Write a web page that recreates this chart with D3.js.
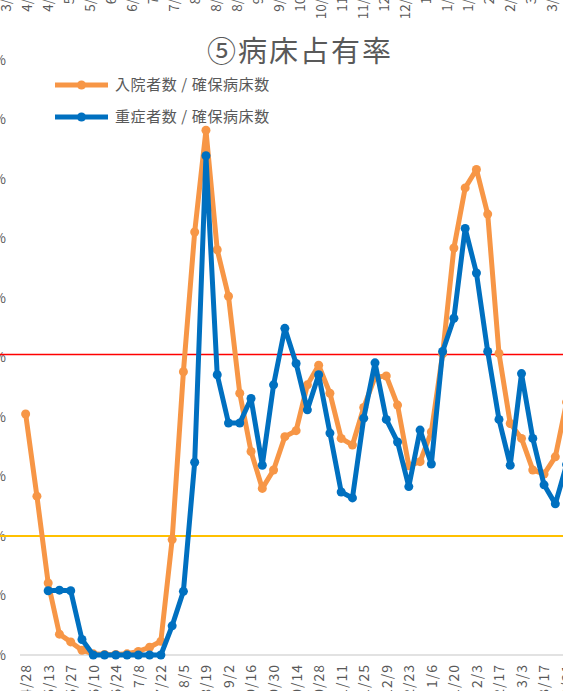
<!DOCTYPE html>
<meta charset="utf-8">
<style>
  body { margin: 0; background: #fff; }
  svg { display: block; }
  text { font-family: "Noto Sans CJK JP", "Noto Sans", sans-serif; fill: #595959; }
</style>
<script src="https://d3js.org/d3.v7.min.js"></script>

<div id="chart"></div>

<script>

// weekly dates (x categories)
var dates = ["4/28","5/6","5/13","5/20","5/27","6/3","6/10","6/17","6/24","7/1","7/8","7/15","7/22","7/29",
  "8/5","8/12","8/19","8/26","9/2","9/9","9/16","9/23","9/30","10/7","10/14","10/21","10/28","11/4",
  "11/11","11/18","11/25","12/2","12/9","12/16","12/23","12/30","1/6","1/13","1/20","1/27","2/3","2/10",
  "2/17","2/24","3/3","3/10","3/17","3/24","3/31"]

// 入院者数 / 確保病床数 (%)
var hospitalized = [40.5,26.7,12.1,3.5,2.2,0.8,0.2,0.1,0.1,0.2,0.6,1.3,2.3,19.4,
  47.6,71.1,88.2,68.1,60.3,44.0,34.2,28.0,31.1,36.7,37.7,45.4,48.7,44.0,
  36.4,35.3,41.6,46.7,46.9,42.0,31.8,32.5,37.5,50.6,68.4,78.5,81.6,74.1,
  50.7,38.9,36.4,31.1,30.4,33.3,42.5]

// 重症者数 / 確保病床数 (%)
var severe = [null,null,10.8,10.9,10.8,2.6,0,0,0,0,0,0,0,4.9,
  10.7,32.4,83.9,47.1,39.0,39.0,43.1,31.9,45.4,54.9,49.0,41.2,47.1,37.3,
  27.4,26.4,39.8,49.1,39.6,35.8,28.3,37.8,32.1,51.0,56.6,71.7,64.2,51.0,
  39.6,31.9,47.3,36.4,28.6,25.4,32.0]

var yTicks = [0,10,20,30,40,50,60,70,80,90,100]

// x labels of the chart above (only their ends show)
var topDates = ["3/31","4/14","4/28","5/6","5/19","6/2","6/16","7/1","7/14","8/4","8/18","8/25",
  "9/8","9/22","10/6","10/20","11/3","11/17","12/1","12/15","1/5","1/12","1/26","2/9","2/23","3/9","3/23"]

var redLevel = 50.5
var yellowLevel = 20

var width = 563, height = 691
var orange = "#F79646", blue = "#0070C0"

var svg = d3.select("#chart").append("svg")
  .attr("width", width)
  .attr("height", height)

var x = d3.scalePoint()
  .domain(dates)
  .range([20, 20 + dates.length * 11.27])
  .padding(0.5)

var y = d3.scaleLinear()
  .domain([0, 100])
  .range([655, 60])

// top labels, cut off
var xTop = d3.scalePoint().domain(topDates).range([6, 6 + 26 * 21])
svg.append("g").selectAll("text")
  .data(topDates)
  .enter().append("text")
    .attr("transform", function(d){ return "translate(" + xTop(d) + ",-16) rotate(-90)" })
    .attr("text-anchor", "end")
    .attr("dy", "0.35em")
    .style("font-size", "13.5px")
    .text(function(d){ return d })

// title
svg.append("text")
  .attr("x", 300)
  .attr("y", 62)
  .attr("text-anchor", "middle")
  .style("font-size", "29px")
  .style("letter-spacing", "2px")
  .text("⑤病床占有率")

// baseline
svg.append("line")
  .attr("x1", 20).attr("x2", width)
  .attr("y1", y(0)).attr("y2", y(0))
  .attr("stroke", "#D9D9D9")
  .attr("stroke-width", 1.5)

// y labels
svg.append("g").selectAll("text")
  .data(yTicks)
  .enter().append("text")
    .attr("x", 6)
    .attr("y", function(d){ return y(d) })
    .attr("dy", "0.35em")
    .attr("text-anchor", "end")
    .style("font-size", "13.5px")
    .text(function(d){ return d + "%" })

// x axis
var xAxis = svg.append("g")
  .attr("transform", "translate(0," + y(0) + ")")
  .call(d3.axisBottom(x)
    .tickValues(dates.filter(function(d, i){ return i % 2 == 0 }))
    .tickSize(0))
xAxis.select(".domain").remove()
xAxis.selectAll("text")
  .attr("transform", "rotate(-90)")
  .attr("x", -9)
  .attr("y", 0)
  .attr("dy", "0.35em")
  .attr("text-anchor", "end")
  .style("font-size", "14px")
  .style("letter-spacing", "1px")
  .style("font-family", "\"Noto Sans CJK JP\", sans-serif")
  .attr("fill", "#595959")

// threshold lines
svg.append("line")
  .attr("x1", 0).attr("x2", width)
  .attr("y1", y(redLevel)).attr("y2", y(redLevel))
  .attr("stroke", "#FF0000")
  .attr("stroke-width", 1.6)
svg.append("line")
  .attr("x1", 0).attr("x2", width)
  .attr("y1", y(yellowLevel)).attr("y2", y(yellowLevel))
  .attr("stroke", "#FFC000")
  .attr("stroke-width", 2)

function drawSeries(values, color) {
  var line = d3.line()
    .defined(function(d){ return d != null })
    .x(function(d, i){ return x(dates[i]) })
    .y(function(d){ return y(d) })

  svg.append("path")
    .datum(values)
    .attr("fill", "none")
    .attr("stroke", color)
    .attr("stroke-width", 5)
    .attr("stroke-linejoin", "round")
    .attr("d", line)

  svg.append("g").selectAll("circle")
    .data(values.map(function(v, i){ return {v: v, d: dates[i]} }).filter(function(p){ return p.v != null }))
    .enter().append("circle")
      .attr("cx", function(p){ return x(p.d) })
      .attr("cy", function(p){ return y(p.v) })
      .attr("r", 4.5)
      .attr("fill", color)
}

drawSeries(hospitalized, orange)
drawSeries(severe, blue)

// legend
var legend = [
  {name: "入院者数 / 確保病床数", color: orange, y: 85},
  {name: "重症者数 / 確保病床数", color: blue, y: 117}
]
var lg = svg.append("g").selectAll("g")
  .data(legend)
  .enter().append("g")
lg.append("line")
  .attr("x1", 55).attr("x2", 108)
  .attr("y1", function(d){ return d.y }).attr("y2", function(d){ return d.y })
  .attr("stroke", function(d){ return d.color })
  .attr("stroke-width", 5)
lg.append("circle")
  .attr("cx", 81.5)
  .attr("cy", function(d){ return d.y })
  .attr("r", 4.5)
  .attr("fill", function(d){ return d.color })
lg.append("text")
  .attr("x", 115)
  .attr("y", function(d){ return d.y })
  .attr("dy", "0.36em")
  .style("font-size", "15px")
  .style("letter-spacing", "0.6px")
  .text(function(d){ return d.name })

</script>
